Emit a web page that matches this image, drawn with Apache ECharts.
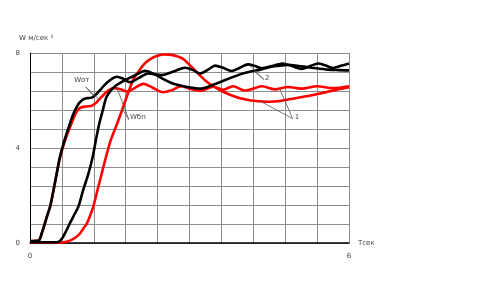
<!DOCTYPE html>
<html><head><meta charset="utf-8">
<script src="https://cdn.jsdelivr.net/npm/echarts@6/dist/echarts.min.js"></script>
<style>html,body{margin:0;padding:0;background:#fff}#c{width:501px;height:283px}</style>
</head><body><div id="c"></div>
<script>
// Black, early rise (Wот)
var tBlackOt = [0, 0.16, 0.22, 0.28, 0.33, 0.38, 0.44, 0.5, 0.56, 0.62, 0.68, 0.74, 0.8, 0.86, 0.92, 1.0, 1.08, 1.16, 1.24, 1.32, 1.4, 1.5, 1.63, 1.75, 1.88, 2.05, 2.22, 2.35, 2.48, 2.7, 2.92, 3.05, 3.2, 3.35, 3.48, 3.63, 3.79, 3.95, 4.1, 4.23, 4.36, 4.55, 4.75, 4.93, 5.11, 5.27, 5.42, 5.56, 5.7, 5.85, 6.0];
var vBlackOt = [0.08, 0.1, 0.4, 0.83, 1.2, 1.55, 2.2, 2.9, 3.6, 4.1, 4.55, 4.95, 5.35, 5.65, 5.88, 6.05, 6.1, 6.12, 6.25, 6.44, 6.65, 6.85, 7.0, 6.92, 6.77, 6.95, 7.14, 7.1, 7.07, 7.22, 7.38, 7.3, 7.14, 7.3, 7.47, 7.38, 7.24, 7.38, 7.52, 7.45, 7.36, 7.45, 7.56, 7.45, 7.33, 7.45, 7.56, 7.47, 7.37, 7.46, 7.56];
// Red, early rise (Wот)
var tRedOt = [0, 0.16, 0.22, 0.28, 0.33, 0.38, 0.44, 0.5, 0.56, 0.62, 0.68, 0.74, 0.8, 0.87, 0.95, 1.05, 1.15, 1.25, 1.35, 1.47, 1.58, 1.7, 1.82, 1.95, 2.13, 2.3, 2.5, 2.65, 2.85, 3.0, 3.2, 3.45, 3.63, 3.82, 4.04, 4.2, 4.36, 4.6, 4.85, 5.1, 5.4, 5.7, 6.0];
var vRedOt = [0.08, 0.1, 0.4, 0.83, 1.2, 1.55, 2.2, 2.9, 3.55, 4.05, 4.45, 4.8, 5.15, 5.5, 5.7, 5.75, 5.77, 5.92, 6.16, 6.42, 6.52, 6.47, 6.38, 6.5, 6.7, 6.55, 6.35, 6.42, 6.6, 6.5, 6.4, 6.58, 6.45, 6.6, 6.42, 6.5, 6.6, 6.47, 6.57, 6.5, 6.6, 6.52, 6.6];
// Black, late rise (Wбп)
var tBlackBp = [0, 0.5, 0.56, 0.62, 0.69, 0.75, 0.83, 0.91, 1.0, 1.1, 1.18, 1.24, 1.3, 1.37, 1.44, 1.53, 1.63, 1.78, 1.94, 2.05, 2.16, 2.3, 2.48, 2.65, 2.79, 2.95, 3.1, 3.2, 3.35, 3.57, 3.75, 3.95, 4.15, 4.33, 4.5, 4.64, 4.85, 5.05, 5.3, 5.6, 5.8, 6.0];
var vBlackBp = [0.03, 0.03, 0.08, 0.25, 0.55, 0.83, 1.18, 1.53, 2.23, 2.93, 3.63, 4.34, 5.0, 5.6, 6.16, 6.45, 6.65, 6.85, 7.02, 7.15, 7.25, 7.15, 6.93, 6.75, 6.65, 6.57, 6.52, 6.5, 6.58, 6.77, 6.93, 7.1, 7.22, 7.3, 7.4, 7.45, 7.5, 7.45, 7.38, 7.3, 7.28, 7.27];
// Red, late rise (Wбп)
var tRedBp = [0, 0.6, 0.75, 0.85, 0.94, 1.0, 1.07, 1.13, 1.19, 1.27, 1.35, 1.43, 1.52, 1.6, 1.71, 1.82, 1.94, 2.05, 2.16, 2.27, 2.38, 2.5, 2.62, 2.75, 2.88, 3.0, 3.1, 3.2, 3.32, 3.45, 3.57, 3.75, 3.95, 4.15, 4.3, 4.5, 4.7, 4.9, 5.2, 5.5, 5.8, 6.0];
var vRedBp = [0.02, 0.02, 0.1, 0.22, 0.4, 0.6, 0.83, 1.15, 1.53, 2.23, 2.93, 3.63, 4.34, 4.8, 5.46, 6.16, 6.86, 7.25, 7.56, 7.75, 7.87, 7.94, 7.93, 7.87, 7.75, 7.5, 7.28, 7.05, 6.8, 6.6, 6.44, 6.25, 6.09, 6.0, 5.97, 5.95, 5.98, 6.06, 6.18, 6.32, 6.47, 6.56];

var xTickLabels = [0, 6];
var yTickLabels = [0, 4, 8];
var yTitle = 'W м/сек ²';
var xTitle = 'Tсек';

// annotation texts with anchor points in data units
var annotations = [
  {text: 'Wот', at: [0.83, 6.86], from: [1.05, 6.57], to: [[1.2, 6.18], [1.32, 6.0]]},
  {text: 'Wбп', at: [1.88, 5.3], from: [1.86, 5.2], to: [[1.62, 6.62], [1.74, 5.62]]},
  {text: '2', at: [4.42, 6.96], from: [4.4, 6.88], to: [[4.14, 7.47], [4.22, 7.22]]},
  {text: '1', at: [4.98, 5.3], from: [4.94, 5.24], to: [[4.7, 6.47], [4.33, 5.97]]}
];

function pairs(t, v) { return t.map(function (x, i) { return [x, v[i]]; }); }

var chart = echarts.init(document.getElementById('c'));
var FONT = 'DejaVu Sans';
var TXT = '#444';
function mkLine(name, t, v, color) {
  return {name: name, type: 'line', data: pairs(t, v), showSymbol: false, smooth: 0.3,
    lineStyle: {color: color, width: 2.6}, z: color === '#000000' ? 3 : 2, animation: false};
}
function pick(list) {
  return function (v) { for (var i = 0; i < list.length; i++) if (Math.abs(v - list[i]) < 1e-6) return String(list[i]); return ''; };
}
chart.setOption({
  animation: false,
  grid: {left: 30, right: 152, top: 53, bottom: 40},
  xAxis: {type: 'value', min: 0, max: 6, interval: 0.6,
    name: xTitle, nameLocation: 'end', nameGap: 9,
    nameTextStyle: {fontFamily: FONT, fontSize: 7, color: TXT, verticalAlign: 'middle'},
    axisLine: {lineStyle: {color: '#000', width: 1.5}},
    axisTick: {show: false},
    axisLabel: {fontFamily: FONT, fontSize: 7, color: TXT, margin: 10, showMaxLabel: true, formatter: pick(xTickLabels)},
    splitLine: {show: true, lineStyle: {color: '#8c8c8c', width: 1}}
  },
  yAxis: {type: 'value', min: 0, max: 8, interval: 0.8,
    axisLine: {show: true, lineStyle: {color: '#000', width: 1}},
    axisTick: {show: false},
    axisLabel: {fontFamily: FONT, fontSize: 7, color: TXT, margin: 10, showMaxLabel: true, formatter: pick(yTickLabels)},
    splitLine: {show: true, lineStyle: {color: '#8c8c8c', width: 1}}
  },
  series: [
    mkLine('Wот-red', tRedOt, vRedOt, '#ff0000'),
    mkLine('Wбп-red', tRedBp, vRedBp, '#ff0000'),
    mkLine('Wот-black', tBlackOt, vBlackOt, '#000000'),
    mkLine('Wбп-black', tBlackBp, vBlackBp, '#000000')
  ]
});

var g = [];
var tl = chart.convertToPixel({gridIndex: 0}, [0, 8]);
g.push({type: 'text', left: tl[0] - 11, top: tl[1] - 18, style: {text: yTitle, fontFamily: FONT, fontSize: 7, fill: TXT}, z: 10});
annotations.forEach(function (a) {
  var p = chart.convertToPixel({gridIndex: 0}, a.at);
  var f = chart.convertToPixel({gridIndex: 0}, a.from);
  g.push({type: 'text', x: p[0], y: p[1], style: {text: a.text, fontFamily: FONT, fontSize: 7, fill: TXT, textVerticalAlign: 'middle'}, z: 10});
  a.to.forEach(function (d) {
    var q = chart.convertToPixel({gridIndex: 0}, d);
    g.push({type: 'line', shape: {x1: f[0], y1: f[1], x2: q[0], y2: q[1]}, style: {stroke: '#555', lineWidth: 0.8}, z: 10});
  });
});
chart.setOption({graphic: g});
</script>
</body></html>
